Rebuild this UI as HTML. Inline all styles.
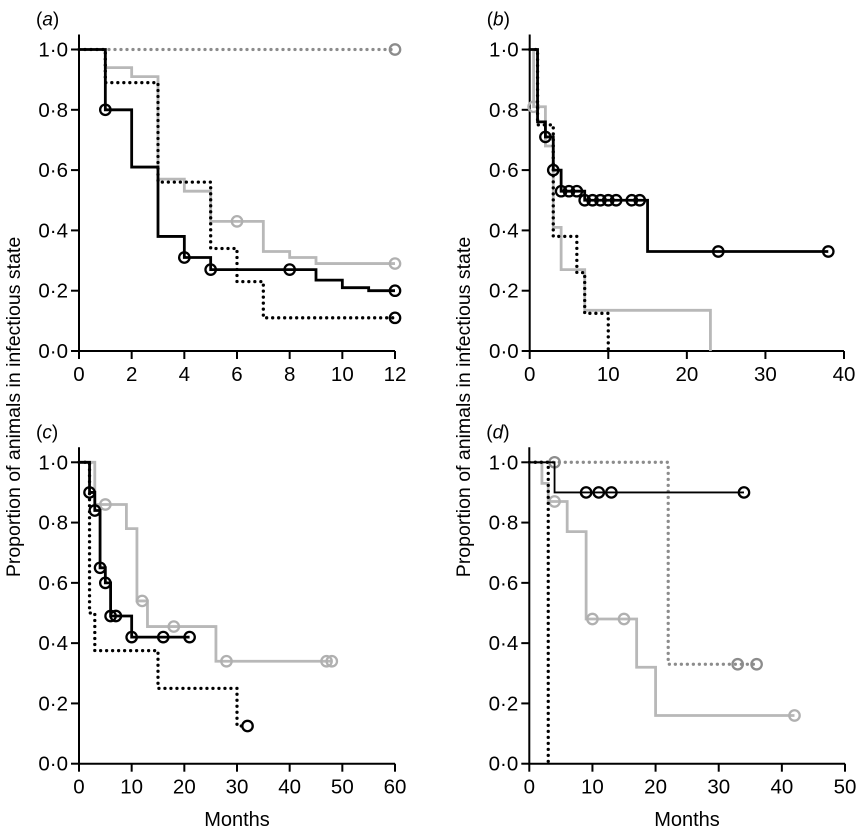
<!DOCTYPE html>
<html><head><meta charset="utf-8"><style>
body{margin:0;background:#fff;}
svg{display:block;font-family:"Liberation Sans",Arial,sans-serif;}
</style></head><body>
<svg id="fig" width="856" height="833" viewBox="0 0 856 833">
<text x="20" y="407" font-size="19.5" text-anchor="middle" transform="rotate(-90 20 407)">Proportion of animals in infectious state</text>
<text x="470" y="407" font-size="19.5" text-anchor="middle" transform="rotate(-90 470 407)">Proportion of animals in infectious state</text>
<text x="237" y="826" font-size="20" text-anchor="middle">Months</text>
<text x="687" y="826" font-size="20" text-anchor="middle">Months</text>
</svg>
<script>
// Panel a
const aXTicks=[0,2,4,6,8,10,12];
const aGrayDotT=[0,12], aGrayDotS=[1,1], aGrayDotC=[12];
const aBlackT=[0,1,2,3,4,5,9,10,11,12], aBlackS=[1,0.8,0.61,0.38,0.31,0.27,0.235,0.21,0.2,0.2], aBlackC=[1,4,5,8,12];
const aGrayT=[0,1,2,3,4,5,7,8,9,12], aGrayS=[1,0.94,0.91,0.57,0.53,0.43,0.33,0.31,0.29,0.29], aGrayC=[6,12];
const aDotT=[0,1,3,5,6,7,12], aDotS=[1,0.89,0.56,0.34,0.23,0.11,0.11], aDotC=[12];
// Panel b
const bXTicks=[0,10,20,30,40];
const bBlackT=[0,1,2,3,4,7,15,38], bBlackS=[1,0.76,0.71,0.6,0.53,0.5,0.33,0.33], bBlackC=[2,3,4,5,6,7,8,9,10,11,13,14,24,38];
const bGrayT=[0,0.5,2,3,4,7,23,23], bGrayS=[1,0.81,0.68,0.41,0.27,0.135,0,0], bGrayC=[0.5];
const bDotT=[0,1,3,6,7,10,10], bDotS=[1,0.75,0.38,0.26,0.125,0,0], bDotC=[];
// Panel c
const cXTicks=[0,10,20,30,40,50,60];
const cBlackT=[0,2,3,4,5,6,10,21], cBlackS=[1,0.9,0.84,0.65,0.6,0.49,0.42,0.42], cBlackC=[2,3,4,5,6,7,10,16,21];
const cGrayT=[0,3,9,11,13,26,48], cGrayS=[1,0.86,0.78,0.54,0.455,0.34,0.34], cGrayC=[5,12,18,28,47,48];
const cDotT=[0,2,3,15,30,31], cDotS=[1,0.5,0.375,0.25,0.125,0.125], cDotC=[32];
// Panel d
const dXTicks=[0,10,20,30,40,50];
const dBlackT=[0,4,34], dBlackS=[1,0.9,0.9], dBlackC=[9,11,13,34];
const dGrayT=[0,2,3,6,9,17,20,42], dGrayS=[1,0.93,0.87,0.77,0.48,0.32,0.16,0.16], dGrayC=[4,10,15,42];
const dGrayDotT=[0,22,36], dGrayDotS=[1,0.33,0.33], dGrayDotC=[4,33,36];
const dDotT=[0,3,3], dDotS=[1,0,0], dDotC=[];
const yTicks=[0,0.2,0.4,0.6,0.8,1.0];
const yTickLabels=["0·0","0·2","0·4","0·6","0·8","1·0"];

const svg=document.getElementById('fig');
const NS='http://www.w3.org/2000/svg';
function mk(tag,attrs,parent){const e=document.createElementNS(NS,tag);for(const k in attrs)e.setAttribute(k,attrs[k]);(parent||svg).appendChild(e);return e;}

const STY={
 black:{stroke:'#000','stroke-width':2.8,fill:'none'},
 blackThin:{stroke:'#000','stroke-width':1.8,fill:'none'},
 gray:{stroke:'#b8b8b8','stroke-width':2.8,fill:'none'},
 dot:{stroke:'#000','stroke-width':3.3,fill:'none','stroke-dasharray':'0 6','stroke-linecap':'round'},
 grayDot:{stroke:'#8c8c8c','stroke-width':3.3,fill:'none','stroke-dasharray':'0 6','stroke-linecap':'round'}
};
const CCOL={black:'#000',blackThin:'#000',gray:'#b0b0b0',dot:'#000',grayDot:'#8c8c8c'};

function panel(name,label,x0,x1,xmax,y0,y1,xticks,series){
 const g=mk('g',{});
 
 
 const X=v=>x0+(x1-x0)*v/xmax, Y=v=>y0+(y1-y0)*v;
 const lab=mk('text',{x:X(0)-43,y:y1-24,'font-size':19},g);
 lab.textContent='('; const it=mk('tspan',{'font-style':'italic'},lab); it.textContent=label; lab.appendChild(document.createTextNode(')'));
 
 
 const ax=mk('path',{d:`M${x0} ${y1-15}V${y0}H${x1}`,stroke:'#000','stroke-width':2,fill:'none'},g);
 
 
 yTicks.forEach((v,i)=>{
  mk('line',{x1:x0-8,x2:x0,y1:Y(v),y2:Y(v),stroke:'#000','stroke-width':2},g);
  const t=mk('text',{x:x0-11,y:Y(v)+7,'font-size':20.5,'text-anchor':'end'},g);t.textContent=yTickLabels[i];
  
  
 });
 xticks.forEach(v=>{
  mk('line',{x1:X(v),x2:X(v),y1:y0,y2:y0+8,stroke:'#000','stroke-width':2},g);
  const t=mk('text',{x:X(v),y:y0+30,'font-size':20.5,'text-anchor':'middle'},g);t.textContent=String(v);
  
  
 });
 series.forEach(s=>{
  const [T,S,C,sty,nm]=s;
  let d=`M${X(T[0])} ${Y(S[0])}`;
  for(let i=1;i<T.length;i++){d+=`H${X(T[i])}V${Y(S[i])}`;}
  const p=mk('path',Object.assign({d},STY[sty]),g);
  
  
  C.forEach(c=>{
   let v=S[0];for(let i=0;i<T.length;i++){if(T[i]<=c)v=S[i];}
   const ci=mk('circle',{cx:X(c),cy:Y(v),r:5.2,fill:'none',stroke:CCOL[sty],'stroke-width':2.3},g);
   
   
  });
 });
}
panel('a','a',79,395,12,351,49.5,aXTicks,[[aGrayT,aGrayS,aGrayC,'gray','gray-solid'],[aGrayDotT,aGrayDotS,aGrayDotC,'grayDot','gray-dotted'],[aDotT,aDotS,aDotC,'dot','black-dotted'],[aBlackT,aBlackS,aBlackC,'black','black-solid']]);
panel('b','b',529.7,844,40,351,49.5,bXTicks,[[bGrayT,bGrayS,bGrayC,'gray','gray-solid'],[bDotT,bDotS,bDotC,'dot','black-dotted'],[bBlackT,bBlackS,bBlackC,'black','black-solid']]);
panel('c','c',79,395,60,763.7,462.3,cXTicks,[[cGrayT,cGrayS,cGrayC,'gray','gray-solid'],[cDotT,cDotS,cDotC,'dot','black-dotted'],[cBlackT,cBlackS,cBlackC,'black','black-solid']]);
panel('d','d',529.3,845,50,763.7,462.3,dXTicks,[[dGrayT,dGrayS,dGrayC,'gray','gray-solid'],[dGrayDotT,dGrayDotS,dGrayDotC,'grayDot','gray-dotted'],[dDotT,dDotS,dDotC,'dot','black-dotted'],[dBlackT,dBlackS,dBlackC,'blackThin','black-solid']]);
</script>
</body></html>
